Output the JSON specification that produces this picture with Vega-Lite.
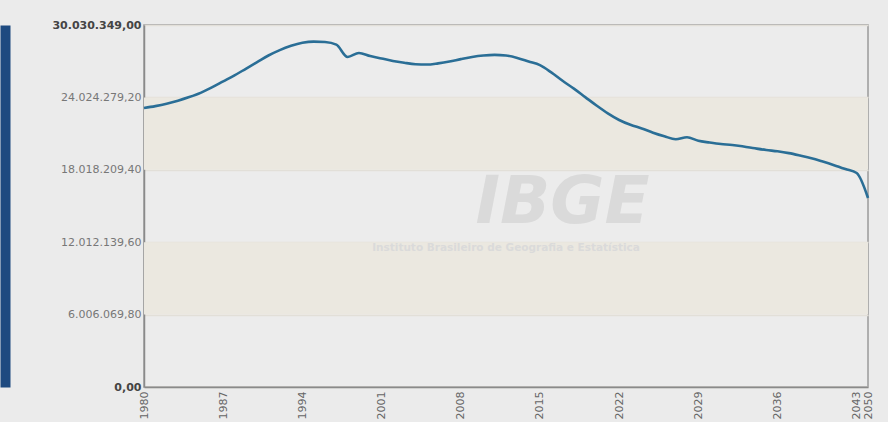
{
  "$schema": "https://vega.github.io/schema/vega-lite/v6.json",
  "autosize": {"type": "none"},
  "width": 724,
  "height": 362,
  "padding": {"left": 144, "top": 25, "right": 20, "bottom": 35},
  "background": "#ebebeb",
  "config": {
    "locale": {"number": {"decimal": ",", "thousands": ".", "grouping": [3], "currency": ["R$", ""]}},
    "view": {"fill": "#ececec", "stroke": "#9a9a9a", "strokeWidth": 1.5},
    "font": "DejaVu Sans"
  },
  "datasets": {
    "pop": [
      {"year": 1980, "value": 23140000}, {"year": 1981, "value": 23300000}, {"year": 1982, "value": 23500000},
      {"year": 1983, "value": 23750000}, {"year": 1984, "value": 24050000}, {"year": 1985, "value": 24400000},
      {"year": 1986, "value": 24850000}, {"year": 1987, "value": 25350000}, {"year": 1988, "value": 25850000},
      {"year": 1989, "value": 26400000}, {"year": 1990, "value": 26950000}, {"year": 1991, "value": 27500000},
      {"year": 1992, "value": 27950000}, {"year": 1993, "value": 28300000}, {"year": 1994, "value": 28550000},
      {"year": 1995, "value": 28650000}, {"year": 1996, "value": 28620000}, {"year": 1997, "value": 28400000},
      {"year": 1998, "value": 27380000}, {"year": 1999, "value": 27710000}, {"year": 2000, "value": 27450000},
      {"year": 2001, "value": 27250000}, {"year": 2002, "value": 27050000}, {"year": 2003, "value": 26900000},
      {"year": 2004, "value": 26780000}, {"year": 2005, "value": 26750000}, {"year": 2006, "value": 26850000},
      {"year": 2007, "value": 27000000}, {"year": 2008, "value": 27200000}, {"year": 2009, "value": 27380000},
      {"year": 2010, "value": 27500000}, {"year": 2011, "value": 27550000}, {"year": 2012, "value": 27500000},
      {"year": 2013, "value": 27300000}, {"year": 2014, "value": 27000000}, {"year": 2015, "value": 26700000},
      {"year": 2016, "value": 26100000}, {"year": 2017, "value": 25400000}, {"year": 2018, "value": 24750000},
      {"year": 2019, "value": 24050000}, {"year": 2020, "value": 23350000}, {"year": 2021, "value": 22700000},
      {"year": 2022, "value": 22150000}, {"year": 2023, "value": 21750000}, {"year": 2024, "value": 21450000},
      {"year": 2025, "value": 21100000}, {"year": 2026, "value": 20800000}, {"year": 2027, "value": 20550000},
      {"year": 2028, "value": 20720000}, {"year": 2029, "value": 20420000}, {"year": 2030, "value": 20280000},
      {"year": 2031, "value": 20160000}, {"year": 2032, "value": 20080000}, {"year": 2033, "value": 19950000},
      {"year": 2034, "value": 19800000}, {"year": 2035, "value": 19660000}, {"year": 2036, "value": 19550000},
      {"year": 2037, "value": 19400000}, {"year": 2038, "value": 19200000}, {"year": 2039, "value": 18980000},
      {"year": 2040, "value": 18700000}, {"year": 2041, "value": 18400000}, {"year": 2042, "value": 18080000},
      {"year": 2043, "value": 17750000}, {"year": 2050, "value": 15680000}
    ],
    "bands": [
      {"y0": 6006069.8, "y1": 12012139.6},
      {"y0": 18018209.4, "y1": 24024279.2}
    ],
    "mark": [
      {"year": 2017, "value": 15250000, "label": "IBGE"},
      {"year": 2012, "value": 11500000, "label": "Instituto Brasileiro de Geografia e Estatística"}
    ]
  },
  "resolve": {"axis": {"y": "independent"}},
  "layer": [
    {
      "data": {"name": "bands"},
      "mark": {"type": "rect", "color": "#ebe8e0"},
      "encoding": {
        "y": {
          "field": "y0", "type": "quantitative",
          "scale": {"domain": [0, 30030349], "nice": false, "zero": true},
          "axis": {"orient": "left", "offset": 139, "labels": false, "ticks": false, "grid": false, "title": null, "domainColor": "#1e4a80", "domainWidth": 10, "values": []}
        },
        "y2": {"field": "y1"}
      }
    },
    {
      "data": {"name": "mark"},
      "transform": [{"filter": "datum.label == 'IBGE'"}],
      "mark": {"type": "text", "fontSize": 66, "fontWeight": "bold", "fontStyle": "italic", "color": "#dadada", "font": "DejaVu Sans", "baseline": "middle"},
      "encoding": {
        "x": {"field": "year", "type": "ordinal"},
        "y": {"field": "value", "type": "quantitative", "axis": null},
        "text": {"field": "label"}
      }
    },
    {
      "data": {"name": "mark"},
      "transform": [{"filter": "datum.label != 'IBGE'"}],
      "mark": {"type": "text", "fontSize": 10.5, "fontWeight": "bold", "color": "#dadada", "baseline": "middle"},
      "encoding": {
        "x": {"field": "year", "type": "ordinal"},
        "y": {"field": "value", "type": "quantitative", "axis": null},
        "text": {"field": "label"}
      }
    },
    {
      "data": {"name": "pop"},
      "mark": {"type": "line", "color": "#2a6e96", "strokeWidth": 2.6, "interpolate": "monotone"},
      "encoding": {
        "x": {
          "field": "year", "type": "ordinal",
          "scale": {"type": "point", "padding": 0},
          "axis": {
            "title": null,
            "values": [1980, 1987, 1994, 2001, 2008, 2015, 2022, 2029, 2036, 2043, 2050],
            "labelAngle": 270,
            "labelFontSize": 11,
            "labelColor": "#666666",
            "labelPadding": 4,
            "ticks": false,
            "domainColor": "#8a8a8a",
            "domainWidth": 1.5,
            "grid": false
          }
        },
        "y": {
          "field": "value", "type": "quantitative",
          "axis": {
            "orient": "left",
            "title": null,
            "values": [0, 6006069.8, 12012139.6, 18018209.4, 24024279.2, 30030349],
            "format": ",.2f",
            "labelFontSize": 11,
            "labelColor": {"expr": "datum.value == 0 || datum.value > 30000000 ? '#444444' : '#777777'"},
            "labelFontWeight": {"expr": "datum.value == 0 || datum.value > 30000000 ? 'bold' : 'normal'"},
            "labelPadding": 3,
            "ticks": false,
            "domainColor": "#8a8a8a",
            "domainWidth": 1.5,
            "grid": true,
            "gridColor": "#e2dfd8",
            "gridWidth": 1.5
          }
        }
      }
    }
  ]
}
